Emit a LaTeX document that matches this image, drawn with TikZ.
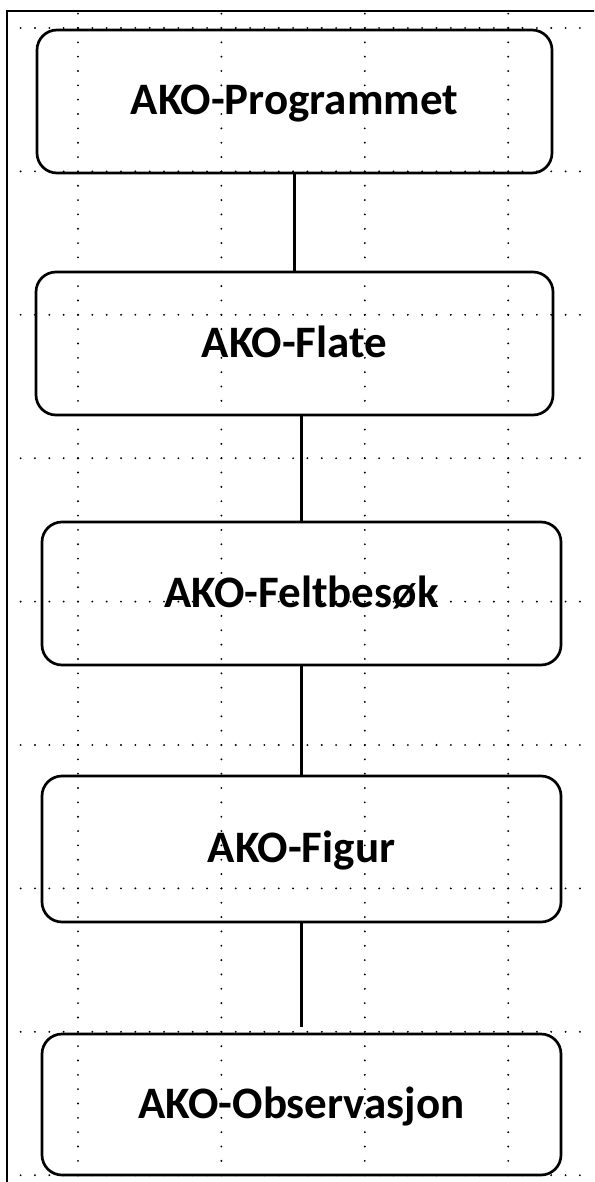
\documentclass[tikz,border=0pt]{standalone}
\usepackage{fontspec}
\setmainfont{Carlito}
\begin{document}
\begin{tikzpicture}[x=1pt,y=-1pt,
  levelbox/.style={draw=black,line width=2.7pt,rounded corners=20pt,
    inner sep=0pt,text height=27pt,text depth=0pt,
    font=\fontsize{45}{52}\selectfont\bfseries},
  link/.style={draw=black,line width=3.2pt},
  griddots/.style={draw=black,line width=2.1pt,line cap=round,
    dash pattern=on 0pt off 14.34pt},
  frame/.style={draw=black,line width=2pt}]
  % page area
  \useasboundingbox (0,0) rectangle (594,1182);
  \clip (0,0) rectangle (594,1182);
  \fill[white] (0,0) rectangle (594,1182);
  % outer frame (runs past the page edge on the right and bottom)
  \draw[frame] (7,11) rectangle (610,1200);
  % dotted background grid
  \foreach \gx in {78,221.4,364.8,508.2}
    \draw[griddots] (\gx,13.66) -- (\gx,1182);
  \foreach \k in {0,...,8}
    \draw[griddots] (20.64,28+143.4*\k) -- (594,28+143.4*\k);
  % hierarchy levels
  \node[levelbox,minimum width=515pt,minimum height=143pt] (prog) at (294.5,101.5) {AKO-Programmet};
  \node[levelbox,minimum width=517pt,minimum height=143pt] (flate) at (294.5,343.5) {AKO-Flate};
  \node[levelbox,minimum width=519pt,minimum height=143pt] (felt) at (301.5,593.5) {AKO-Feltbesøk};
  \node[levelbox,minimum width=519pt,minimum height=146pt] (figur) at (301.5,849) {AKO-Figur};
  \node[levelbox,minimum width=519pt,minimum height=141pt] (obs) at (301.5,1104.5) {AKO-Observasjon};
  % connectors
  \draw[link] (prog.south) -- (prog.south |- flate.north);
  \draw[link] (felt.north) -- (felt.north |- flate.south);
  \draw[link] (felt.south) -- (figur.north);
  \draw[link,shorten >=6pt] (figur.south) -- (obs.north);
\end{tikzpicture}
\end{document}
